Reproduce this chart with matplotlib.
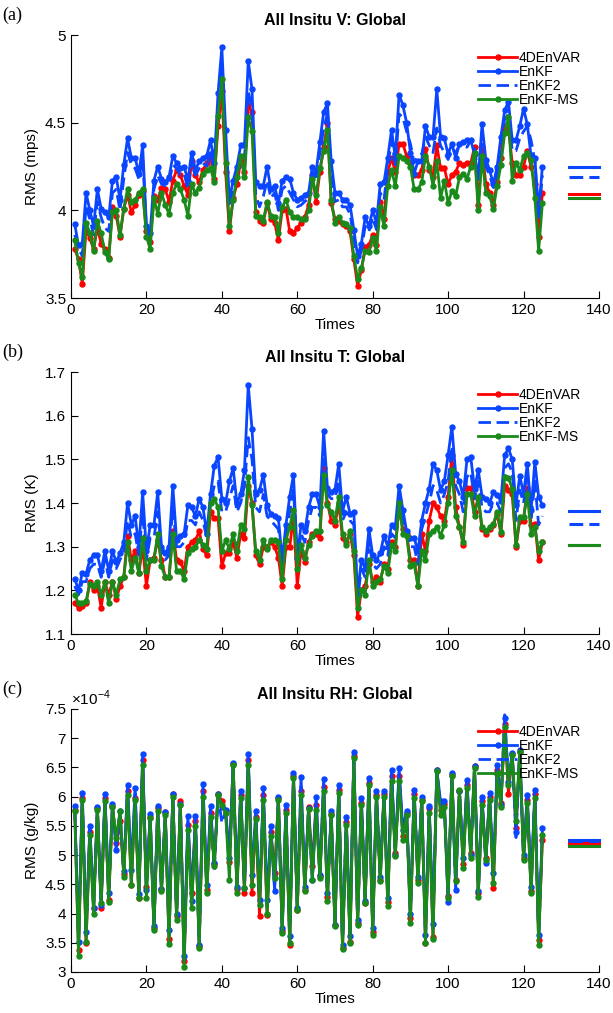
import matplotlib
matplotlib.use("Agg")
import matplotlib.pyplot as plt
from matplotlib.ticker import FormatStrFormatter
import numpy as np

plt.rcParams['font.family'] = ['Liberation Sans', 'DejaVu Sans']
plt.rcParams['mathtext.fontset'] = 'custom'
plt.rcParams['mathtext.rm'] = 'Liberation Sans'

times = np.arange(1, 126)
labels = ["4DEnVAR", "EnKF", "EnKF2", "EnKF-MS"]

# (a) All Insitu V
v_4denvar = [3.78, 3.72, 3.58, 3.89, 3.84, 3.78, 3.90, 3.81, 3.78, 3.73,
             4.02, 3.97, 3.85, 4.01, 4.09, 3.99, 4.03, 4.09, 4.11, 3.88,
             3.82, 4.08, 4.06, 4.13, 4.12, 4.05, 4.17, 4.23, 4.20, 4.14,
             4.09, 4.28, 4.20, 4.16, 4.23, 4.27, 4.31, 4.18, 4.48, 4.68,
             4.22, 3.88, 4.07, 4.15, 4.28, 4.22, 4.60, 4.56, 3.99, 3.94,
             3.93, 4.04, 3.95, 3.93, 3.83, 4.00, 4.01, 3.88, 3.87, 3.90,
             3.93, 3.96, 4.03, 4.20, 4.05, 4.22, 4.36, 4.50, 4.04, 3.95,
             3.94, 3.92, 3.91, 3.88, 3.72, 3.57, 3.66, 3.79, 3.80, 3.86,
             3.80, 4.05, 3.95, 4.22, 4.30, 4.22, 4.38, 4.38, 4.31, 4.27,
             4.20, 4.20, 4.23, 4.35, 4.23, 4.19, 4.37, 4.24, 4.24, 4.15,
             4.20, 4.22, 4.27, 4.26, 4.27, 4.27, 4.36, 4.03, 4.36, 4.15,
             4.10, 4.03, 4.16, 4.30, 4.48, 4.47, 4.27, 4.20, 4.20, 4.25,
             4.34, 4.25, 4.15, 3.85, 4.10]
v_enkf = [3.92, 3.80, 3.81, 4.10, 4.00, 3.91, 4.12, 4.01, 3.99, 3.96,
          4.17, 4.19, 4.06, 4.26, 4.41, 4.30, 4.30, 4.21, 4.37, 3.91,
          3.87, 4.17, 4.25, 4.18, 4.16, 4.19, 4.31, 4.27, 4.24, 4.25,
          4.17, 4.33, 4.23, 4.28, 4.30, 4.31, 4.40, 4.27, 4.67, 4.93,
          4.46, 4.06, 4.17, 4.25, 4.37, 4.37, 4.85, 4.69, 4.16, 4.14,
          4.14, 4.25, 4.12, 4.14, 4.04, 4.17, 4.19, 4.18, 4.10, 4.06,
          4.07, 4.09, 4.10, 4.25, 4.22, 4.39, 4.56, 4.61, 4.28, 4.10,
          4.10, 4.06, 4.06, 4.03, 3.89, 3.74, 3.81, 3.96, 3.91, 4.00,
          3.93, 4.15, 4.16, 4.30, 4.46, 4.30, 4.66, 4.60, 4.50, 4.33,
          4.21, 4.28, 4.28, 4.48, 4.42, 4.42, 4.69, 4.42, 4.41, 4.32,
          4.38, 4.30, 4.38, 4.39, 4.40, 4.40, 4.32, 4.19, 4.49, 4.29,
          4.23, 4.15, 4.25, 4.42, 4.57, 4.62, 4.40, 4.40, 4.48, 4.58,
          4.49, 4.31, 4.30, 3.99, 4.25]
v_enkf2 = [3.86, 3.78, 3.74, 4.02, 3.95, 3.86, 4.05, 3.96, 3.90, 3.88,
           4.10, 4.12, 4.00, 4.18, 4.33, 4.26, 4.24, 4.18, 4.30, 3.90,
           3.84, 4.12, 4.20, 4.15, 4.14, 4.16, 4.26, 4.24, 4.20, 4.21,
           4.12, 4.28, 4.20, 4.24, 4.27, 4.25, 4.33, 4.22, 4.60, 4.82,
           4.36, 4.02, 4.13, 4.22, 4.33, 4.30, 4.68, 4.58, 4.09, 4.02,
           4.08, 4.17, 4.07, 4.10, 4.00, 4.12, 4.14, 4.10, 4.06, 4.02,
           4.03, 4.05, 4.07, 4.22, 4.17, 4.33, 4.47, 4.55, 4.20, 4.05,
           4.06, 4.02, 4.02, 3.98, 3.84, 3.70, 3.77, 3.91, 3.88, 3.96,
           3.89, 4.10, 4.06, 4.25, 4.40, 4.26, 4.55, 4.53, 4.45, 4.38,
           4.27, 4.31, 4.32, 4.42, 4.37, 4.33, 4.47, 4.37, 4.33, 4.29,
           4.35, 4.33, 4.37, 4.37, 4.36, 4.40, 4.37, 4.18, 4.45, 4.25,
           4.20, 4.13, 4.21, 4.38, 4.52, 4.55, 4.34, 4.34, 4.41, 4.45,
           4.48, 4.40, 4.28, 3.95, 4.20]
v_enkfms = [3.83, 3.70, 3.62, 3.93, 3.87, 3.77, 3.94, 3.87, 3.76, 3.72,
            3.99, 4.00, 3.86, 4.01, 4.12, 4.05, 4.06, 4.10, 4.12, 3.85,
            3.78, 4.07, 3.98, 4.10, 4.03, 3.98, 4.10, 4.15, 4.12, 4.06,
            3.97, 4.15, 4.10, 4.13, 4.21, 4.23, 4.24, 4.16, 4.54, 4.75,
            4.27, 3.91, 4.06, 4.19, 4.31, 4.19, 4.53, 4.45, 3.97, 3.96,
            3.94, 4.05, 3.97, 3.96, 3.87, 4.02, 4.06, 3.99, 3.96, 3.96,
            3.95, 3.95, 4.00, 4.18, 4.09, 4.24, 4.34, 4.46, 4.06, 3.93,
            3.96, 3.93, 3.92, 3.90, 3.74, 3.61, 3.67, 3.77, 3.76, 3.84,
            3.77, 4.02, 3.91, 4.14, 4.23, 4.14, 4.31, 4.30, 4.28, 4.25,
            4.12, 4.12, 4.16, 4.31, 4.25, 4.14, 4.28, 4.07, 4.17, 4.04,
            4.11, 4.08, 4.19, 4.21, 4.18, 4.25, 4.33, 4.00, 4.31, 4.10,
            4.08, 4.01, 4.14, 4.26, 4.44, 4.53, 4.17, 4.27, 4.23, 4.31,
            4.33, 4.29, 4.07, 3.77, 4.04]
v_means = [4.095, 4.245, 4.19, 4.07]

# (b) All Insitu T
t_4denvar = [1.17, 1.16, 1.165, 1.17, 1.22, 1.20, 1.21, 1.16, 1.22, 1.19,
             1.22, 1.18, 1.21, 1.23, 1.325, 1.27, 1.29, 1.24, 1.30, 1.21,
             1.27, 1.275, 1.315, 1.27, 1.23, 1.23, 1.335, 1.27, 1.265, 1.245,
             1.30, 1.31, 1.315, 1.335, 1.295, 1.28, 1.38, 1.365, 1.365, 1.255,
             1.285, 1.285, 1.31, 1.275, 1.33, 1.32, 1.44, 1.40, 1.28, 1.26,
             1.30, 1.30, 1.31, 1.30, 1.275, 1.21, 1.30, 1.30, 1.37, 1.21,
             1.29, 1.265, 1.31, 1.33, 1.33, 1.32, 1.48, 1.40, 1.36, 1.35,
             1.40, 1.32, 1.31, 1.33, 1.28, 1.14, 1.20, 1.21, 1.26, 1.22,
             1.23, 1.22, 1.26, 1.25, 1.31, 1.30, 1.39, 1.34, 1.33, 1.27,
             1.27, 1.21, 1.33, 1.29, 1.36, 1.40, 1.39, 1.37, 1.36, 1.415,
             1.51, 1.39, 1.345, 1.305, 1.435, 1.435, 1.38, 1.41, 1.34, 1.33,
             1.34, 1.35, 1.375, 1.33, 1.44, 1.43, 1.42, 1.30, 1.36, 1.36,
             1.435, 1.35, 1.353, 1.27, 1.31]
t_enkf = [1.227, 1.20, 1.24, 1.238, 1.27, 1.28, 1.28, 1.245, 1.29, 1.245,
          1.29, 1.265, 1.285, 1.31, 1.40, 1.35, 1.37, 1.30, 1.425, 1.29,
          1.35, 1.35, 1.425, 1.30, 1.285, 1.30, 1.44, 1.315, 1.325, 1.33,
          1.395, 1.39, 1.37, 1.41, 1.39, 1.33, 1.42, 1.486, 1.505, 1.41,
          1.40, 1.45, 1.48, 1.40, 1.42, 1.475, 1.67, 1.57, 1.42, 1.43,
          1.465, 1.395, 1.375, 1.37, 1.365, 1.27, 1.35, 1.415, 1.465, 1.275,
          1.35, 1.335, 1.39, 1.42, 1.42, 1.39, 1.565, 1.435, 1.425, 1.43,
          1.49, 1.38, 1.415, 1.375, 1.38, 1.19, 1.27, 1.25, 1.34, 1.28,
          1.27, 1.285, 1.325, 1.30, 1.35, 1.345, 1.44, 1.385, 1.335, 1.32,
          1.32, 1.29, 1.36, 1.40, 1.433, 1.49, 1.475, 1.43, 1.45, 1.51,
          1.575, 1.467, 1.45, 1.415, 1.50, 1.505, 1.433, 1.475, 1.415, 1.41,
          1.40, 1.425, 1.418, 1.405, 1.51, 1.525, 1.50, 1.395, 1.463, 1.42,
          1.49, 1.383, 1.495, 1.415, 1.395]
t_enkf2 = [1.21, 1.19, 1.22, 1.22, 1.25, 1.26, 1.26, 1.23, 1.27, 1.23,
           1.27, 1.25, 1.27, 1.29, 1.36, 1.32, 1.33, 1.28, 1.38, 1.27,
           1.32, 1.32, 1.38, 1.29, 1.27, 1.28, 1.39, 1.30, 1.30, 1.31,
           1.36, 1.36, 1.35, 1.38, 1.36, 1.32, 1.40, 1.44, 1.45, 1.38,
           1.38, 1.41, 1.44, 1.38, 1.40, 1.44, 1.55, 1.50, 1.39, 1.38,
           1.42, 1.37, 1.36, 1.35, 1.34, 1.26, 1.33, 1.38, 1.43, 1.27,
           1.33, 1.31, 1.36, 1.39, 1.39, 1.37, 1.50, 1.42, 1.41, 1.41,
           1.45, 1.36, 1.38, 1.36, 1.35, 1.18, 1.25, 1.23, 1.31, 1.26,
           1.25, 1.26, 1.30, 1.28, 1.33, 1.32, 1.42, 1.36, 1.33, 1.30,
           1.30, 1.26, 1.34, 1.37, 1.40, 1.44, 1.43, 1.40, 1.42, 1.45,
           1.53, 1.44, 1.42, 1.38, 1.46, 1.47, 1.41, 1.45, 1.39, 1.38,
           1.38, 1.40, 1.40, 1.38, 1.48, 1.49, 1.47, 1.36, 1.43, 1.40,
           1.46, 1.36, 1.45, 1.35, 1.37]
t_enkfms = [1.19, 1.17, 1.17, 1.175, 1.215, 1.21, 1.22, 1.19, 1.22, 1.17,
            1.22, 1.19, 1.225, 1.23, 1.31, 1.245, 1.275, 1.24, 1.32, 1.245,
            1.27, 1.27, 1.33, 1.255, 1.23, 1.23, 1.33, 1.245, 1.245, 1.225,
            1.285, 1.295, 1.30, 1.315, 1.305, 1.295, 1.40, 1.41, 1.39, 1.29,
            1.315, 1.295, 1.33, 1.29, 1.35, 1.34, 1.46, 1.395, 1.29, 1.27,
            1.315, 1.295, 1.315, 1.315, 1.31, 1.225, 1.315, 1.345, 1.385, 1.25,
            1.305, 1.275, 1.305, 1.325, 1.335, 1.335, 1.465, 1.395, 1.38, 1.36,
            1.415, 1.33, 1.305, 1.335, 1.29, 1.16, 1.20, 1.19, 1.27, 1.21,
            1.22, 1.225, 1.255, 1.24, 1.305, 1.29, 1.40, 1.33, 1.325, 1.255,
            1.26, 1.21, 1.29, 1.27, 1.33, 1.335, 1.345, 1.325, 1.35, 1.40,
            1.475, 1.37, 1.345, 1.31, 1.42, 1.42, 1.37, 1.415, 1.345, 1.337,
            1.345, 1.353, 1.38, 1.334, 1.46, 1.458, 1.433, 1.303, 1.367, 1.367,
            1.42, 1.33, 1.345, 1.29, 1.31]
t_means = [1.305, 1.382, 1.353, 1.305]

# (c) All Insitu RH, in units of 1e-4
rh_4denvar = [5.78, 3.38, 5.98, 3.50, 5.40, 4.10, 5.80, 4.09, 5.98, 4.24,
              5.84, 5.20, 5.58, 4.68, 6.10, 4.49, 5.98, 4.26, 6.63, 4.45,
              5.65, 3.76, 5.80, 4.42, 5.73, 3.56, 6.04, 3.95, 5.93, 3.18,
              5.52, 4.35, 5.58, 3.45, 6.10, 4.40, 5.72, 4.84, 6.05, 5.92,
              5.75, 4.89, 6.56, 4.42, 6.03, 4.35, 6.63, 4.35, 5.66, 3.95,
              6.02, 3.98, 5.40, 4.70, 5.97, 3.70, 5.78, 3.46, 6.36, 4.06,
              6.10, 4.40, 5.83, 4.81, 5.85, 4.64, 6.16, 4.28, 5.70, 3.80,
              6.12, 3.41, 5.57, 3.52, 6.70, 3.84, 5.90, 4.18, 6.24, 3.68,
              6.03, 4.58, 6.05, 4.20, 6.35, 5.03, 6.35, 5.33, 5.72, 3.92,
              6.04, 4.57, 5.95, 3.50, 5.80, 3.60, 6.45, 5.78, 5.88, 4.30,
              6.37, 4.58, 6.10, 4.85, 6.20, 5.03, 6.52, 4.35, 5.92, 4.95,
              6.00, 4.44, 6.45, 5.90, 7.25, 6.05, 6.73, 5.46, 6.77, 4.95,
              5.95, 4.38, 6.04, 3.55, 5.26]
rh_enkf = [5.84, 3.52, 6.07, 3.68, 5.50, 4.10, 5.82, 4.15, 6.05, 4.35,
           5.87, 5.09, 5.75, 4.72, 6.20, 4.75, 6.15, 4.33, 6.73, 4.40,
           5.71, 3.78, 5.84, 4.42, 5.73, 3.72, 6.05, 4.00, 5.88, 3.28,
           5.67, 4.21, 5.67, 3.47, 6.22, 4.49, 5.84, 4.86, 6.05, 5.82,
           5.78, 4.95, 6.58, 4.45, 6.10, 4.43, 6.73, 4.66, 5.75, 4.24,
           6.15, 4.24, 5.49, 4.38, 6.00, 3.75, 5.86, 3.61, 6.40, 4.09,
           6.34, 4.46, 5.80, 4.58, 6.00, 4.66, 6.30, 4.35, 5.75, 3.81,
           6.20, 3.47, 5.66, 3.61, 6.76, 3.89, 5.98, 4.22, 6.32, 3.76,
           6.10, 4.63, 6.09, 4.26, 6.46, 5.00, 6.49, 5.43, 5.76, 4.00,
           6.12, 4.63, 5.99, 3.64, 5.84, 3.82, 6.46, 5.92, 5.93, 4.19,
           6.40, 4.41, 6.09, 4.95, 6.29, 5.00, 6.52, 4.38, 6.00, 4.86,
           6.06, 4.69, 6.55, 5.85, 7.35, 6.25, 6.75, 5.40, 6.80, 5.00,
           6.03, 4.46, 6.12, 3.64, 5.46]
rh_enkf2 = [5.80, 3.45, 6.01, 3.62, 5.44, 4.06, 5.80, 4.16, 6.00, 4.28,
            5.85, 5.15, 5.74, 4.68, 6.12, 4.62, 6.06, 4.30, 6.64, 4.33,
            5.67, 3.75, 5.80, 4.40, 5.71, 3.60, 6.03, 3.95, 5.87, 3.18,
            5.55, 4.16, 5.58, 3.44, 6.10, 4.42, 5.75, 4.72, 6.04, 5.55,
            5.75, 4.75, 6.57, 4.40, 6.04, 4.43, 6.64, 4.58, 5.68, 4.20,
            6.05, 4.12, 5.40, 4.45, 5.98, 3.70, 5.79, 3.55, 6.36, 4.08,
            6.18, 4.42, 5.80, 4.58, 5.89, 4.63, 6.20, 4.28, 5.72, 3.80,
            6.13, 3.44, 5.59, 3.55, 6.71, 3.85, 5.92, 4.20, 6.26, 3.70,
            6.05, 4.59, 6.05, 4.20, 6.36, 4.99, 6.38, 5.35, 5.73, 3.92,
            6.05, 4.58, 5.96, 3.56, 5.78, 3.70, 6.45, 5.80, 5.88, 4.22,
            6.38, 4.48, 6.10, 4.86, 6.22, 4.98, 6.50, 4.33, 5.93, 4.89,
            6.00, 4.60, 6.46, 5.84, 7.40, 6.22, 6.73, 5.30, 6.78, 4.96,
            5.96, 4.40, 6.05, 3.55, 5.40]
rh_enkfms = [5.75, 3.27, 5.95, 3.52, 5.35, 4.00, 5.78, 4.18, 5.93, 4.20,
             5.83, 5.29, 5.75, 4.63, 6.03, 4.49, 5.95, 4.26, 6.54, 4.26,
             5.63, 3.72, 5.75, 4.38, 5.69, 3.48, 6.00, 3.89, 5.86, 3.09,
             5.43, 4.10, 5.49, 3.41, 5.99, 4.35, 5.65, 4.81, 6.03, 5.85,
             5.72, 4.58, 6.55, 4.35, 5.98, 4.43, 6.54, 4.49, 5.61, 4.15,
             5.95, 4.00, 5.32, 4.61, 5.95, 3.66, 5.72, 3.49, 6.32, 4.06,
             6.03, 4.38, 5.79, 4.58, 5.78, 4.60, 6.09, 4.21, 5.68, 3.78,
             6.06, 3.40, 5.52, 3.49, 6.66, 3.81, 5.86, 4.18, 6.20, 3.64,
             6.00, 4.55, 6.00, 4.13, 6.26, 4.98, 6.26, 5.26, 5.69, 3.84,
             5.98, 4.52, 5.92, 3.49, 5.72, 3.57, 6.44, 5.69, 5.83, 4.26,
             6.36, 4.55, 6.12, 4.78, 6.15, 4.95, 6.49, 4.29, 5.86, 4.92,
             5.95, 4.52, 6.38, 5.83, 7.20, 6.20, 6.72, 5.58, 6.77, 4.92,
             5.89, 4.35, 5.98, 3.46, 5.35]
rh_means = [5.21, 5.265, 5.24, 5.15]

colors = ["#ff0000", "#0a46ff", "#0a46ff", "#1a8a1a"]
styles = ["-", "-", "--", "-"]
markers = ["o", "o", None, "o"]
mean_span = [132, 140]


def draw_panel(ax, series, means, title, ylabel, ylim, yticks):
    for vals, lab, col, ls, mk in zip(series, labels, colors, styles, markers):
        line, = ax.plot(times, vals, color=col, linestyle=ls, lw=2.0,
                        marker=mk, markersize=3.6, label=lab)
        if ls == "--":
            line.set_dashes((4.5, 2))
    # mean lines on the right
    for m, col, ls in zip(means, colors, styles):
        line, = ax.plot(mean_span, [m, m], color=col, linestyle=ls, lw=2.2,
                        clip_on=False)
        if ls == "--":
            line.set_dashes((4.5, 2))
    ax.set_xlim(0, 140)
    ax.set_xticks(range(0, 141, 20))
    ax.set_ylim(*ylim)
    ax.set_yticks(yticks)
    ax.yaxis.set_major_formatter(FormatStrFormatter("%g"))
    ax.tick_params(direction="in", length=5, labelsize=11)
    ax.spines["top"].set_visible(False)
    ax.spines["right"].set_visible(False)
    ax.set_title(title, fontsize=11.5, fontweight="bold", pad=7)
    ax.set_xlabel("Times", fontsize=11, labelpad=1)
    ax.set_ylabel(ylabel, fontsize=11)
    ax.legend(loc="upper left", bbox_to_anchor=(0.771, 0.941), frameon=False,
              fontsize=10, handlelength=2.8, handletextpad=0.15,
              labelspacing=0.0, borderpad=0, borderaxespad=0, numpoints=1)


fig = plt.figure(figsize=(6.13, 10.13), dpi=100)
ax_a = fig.add_axes([0.1158, 0.7058, 0.8613, 0.2596])
ax_b = fig.add_axes([0.1158, 0.3741, 0.8613, 0.2586])
ax_c = fig.add_axes([0.1158, 0.0405, 0.8613, 0.2596])

draw_panel(ax_a, [v_4denvar, v_enkf, v_enkf2, v_enkfms], v_means,
           "All Insitu V: Global", "RMS (mps)", (3.5, 5), [3.5, 4, 4.5, 5])
draw_panel(ax_b, [t_4denvar, t_enkf, t_enkf2, t_enkfms], t_means,
           "All Insitu T: Global", "RMS (K)", (1.1, 1.7),
           [1.1, 1.2, 1.3, 1.4, 1.5, 1.6, 1.7])
draw_panel(ax_c, [rh_4denvar, rh_enkf, rh_enkf2, rh_enkfms], rh_means,
           "All Insitu RH: Global", "RMS (g/kg)", (3, 7.5),
           [3, 3.5, 4, 4.5, 5, 5.5, 6, 6.5, 7, 7.5])
ax_c.text(0.0, 1.005, r"$\times10^{-4}$", transform=ax_c.transAxes,
          fontsize=11, ha="left", va="bottom")

# panel letters
for y, txt in [(0.985, "(a)"), (0.6525, "(b)"), (0.3198, "(c)")]:
    fig.text(0.004, y, txt, fontsize=13, family="Liberation Serif",
             ha="left", va="center")

fig.savefig("out.png", dpi=100)
